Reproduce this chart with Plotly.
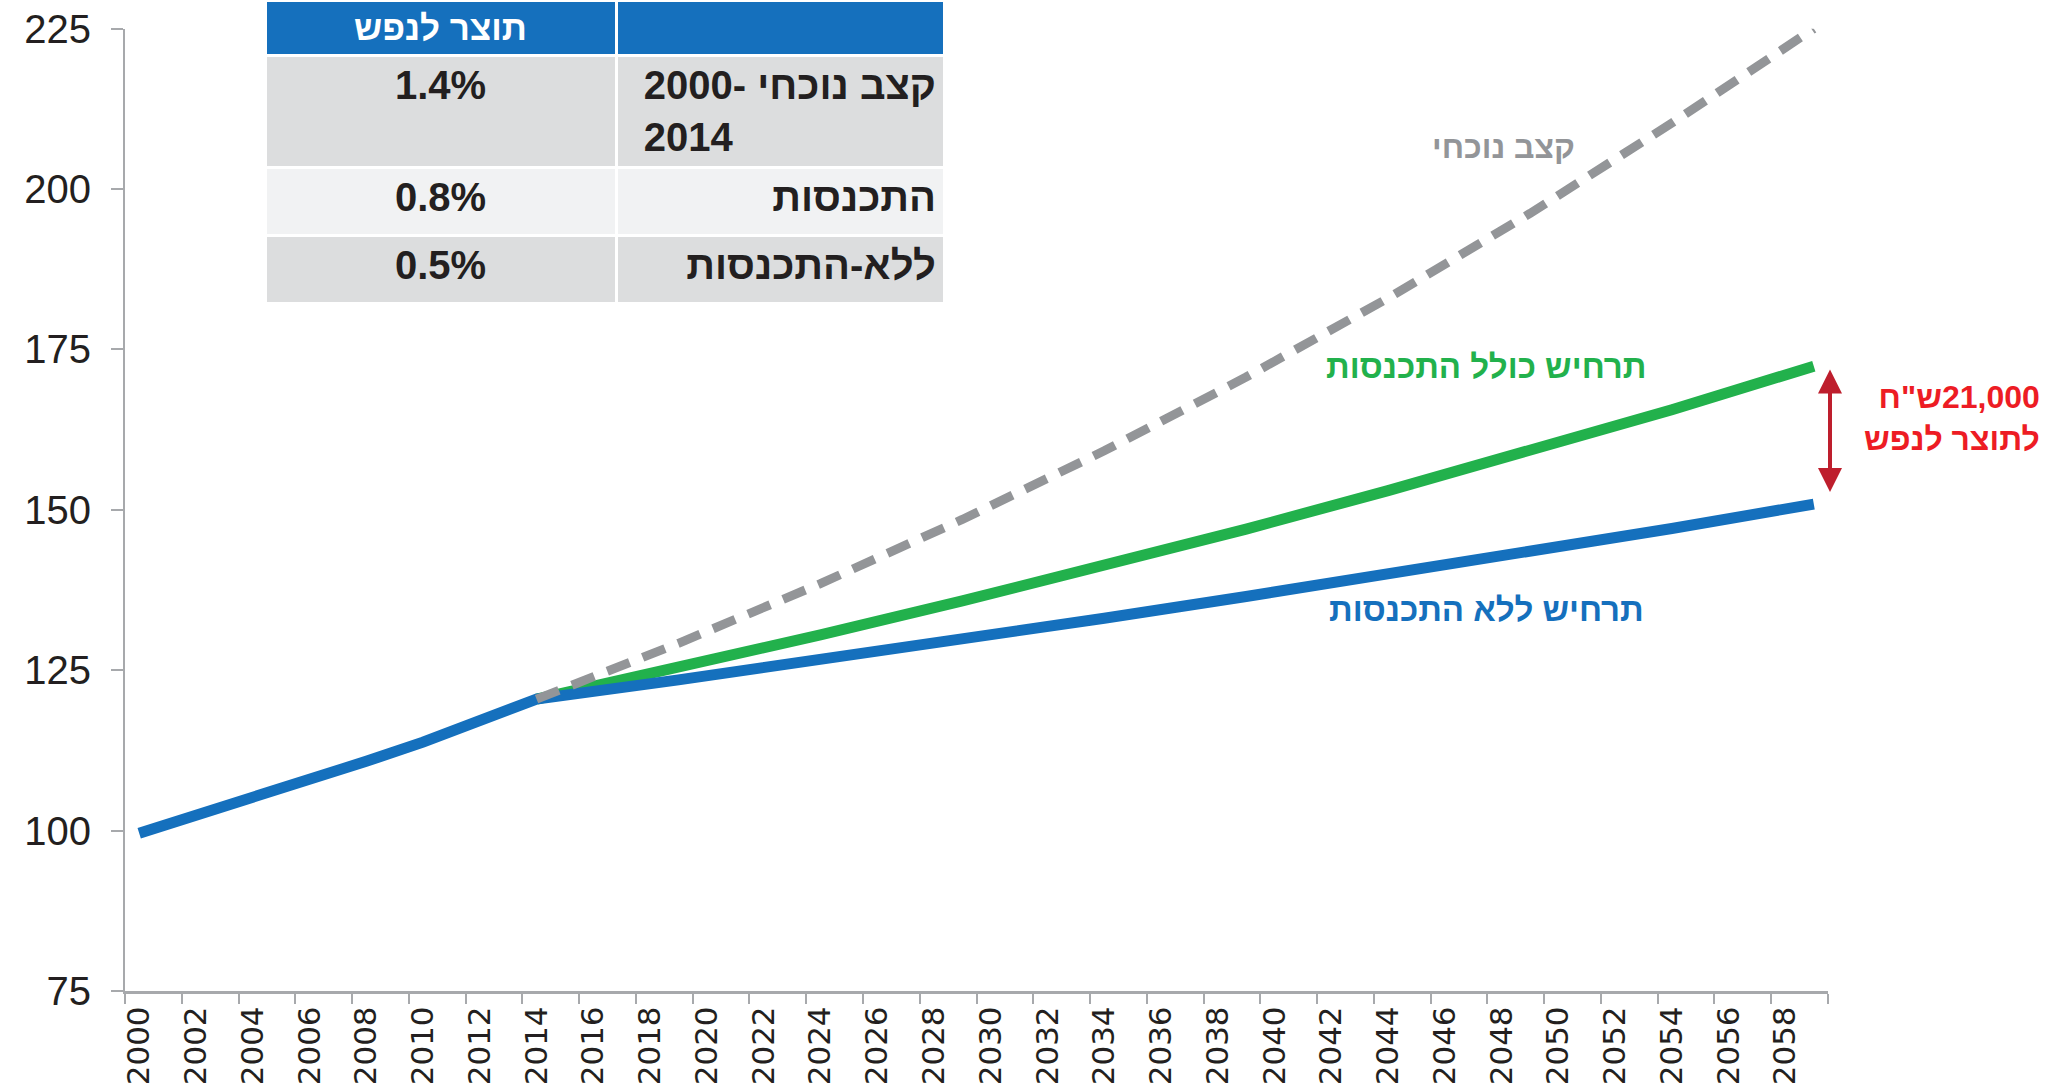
import plotly.graph_objects as go

# GDP per capita index, 2000 = 100
hist_years = [2000, 2002, 2004, 2006, 2008, 2010, 2012, 2014]
hist_values = [99.6, 102.3, 105.0, 107.8, 110.8, 113.8, 117.0, 120.5]

proj_years = [2014, 2019, 2024, 2029, 2034, 2039, 2044, 2049, 2054, 2059]
no_convergence = [120.5, 123.5, 126.6, 129.8, 133.1, 136.5, 139.9, 143.5, 147.1, 150.9]
with_convergence = [120.5, 125.4, 130.5, 135.8, 141.3, 147.0, 153.0, 159.2, 165.6, 172.4]
current_rate = [120.5, 129.2, 138.5, 148.5, 159.2, 170.7, 183.0, 196.2, 210.3, 225.0]

all_years = [str(y) for y in range(2000, 2060)]

# table in the upper left corner
table_header = ["תוצר לנפש", ""]
table_rates = ["1.4%", "0.8%", "0.5%"]
table_scenarios = ["קצב נוכחי -2000<br>2014", "התכנסות", "ללא-התכנסות"]
row_fills = ["#DCDDDE", "#F1F2F3", "#DCDDDE"]

BLUE = "#1570BD"
GREEN = "#22B14C"
GRAY = "#939598"
RED = "#ED1C24"
DARKRED = "#BE1E2D"
AXIS = "#A7A9AC"
TXT = "#231F20"
HEB = "Liberation Sans, Arial, DejaVu Sans"
NARROW = "Liberation Sans Narrow, Arial Narrow, Liberation Sans, Arial"

fig = go.Figure()

fig.add_trace(go.Scatter(
    x=[str(y) for y in proj_years], y=with_convergence, mode="lines",
    line=dict(color=GREEN, width=11), hoverinfo="skip", showlegend=False))

fig.add_trace(go.Scatter(
    x=[str(y) for y in hist_years + proj_years[1:]],
    y=hist_values + no_convergence[1:], mode="lines",
    line=dict(color=BLUE, width=11), hoverinfo="skip", showlegend=False))

fig.add_trace(go.Scatter(
    x=[str(y) for y in proj_years], y=current_rate, mode="lines",
    line=dict(color=GRAY, width=9, dash="24px,14px"), hoverinfo="skip", showlegend=False))

fig.add_trace(go.Table(
    domain=dict(x=[(265 - 125) / 1703, (944 - 125) / 1703], y=[(991 - 330) / 991, 1]),
    columnwidth=[351, 328],
    header=dict(
        values=["<b>%s</b>" % h for h in table_header],
        fill_color=BLUE, line=dict(color="white", width=3),
        font=dict(family=NARROW, size=35, color="white"),
        align=["center", "right"], height=44),
    cells=dict(
        values=[["<b>%s</b>" % v for v in table_rates],
                ["<b>%s</b>" % s for s in table_scenarios]],
        fill_color=[row_fills, row_fills], line=dict(color="white", width=3),
        font=dict(family=NARROW, size=40, color=TXT),
        align=["center", "right"], height=68),
))

# line labels
fig.add_annotation(x=48.05, y=206.6, xref="x", yref="y", text="<b>קצב נוכחי</b>",
                   showarrow=False, font=dict(family=HEB, size=32, color=GRAY))
fig.add_annotation(x=47.46, y=172.4, xref="x", yref="y", text="<b>תרחיש כולל התכנסות</b>",
                   showarrow=False, font=dict(family=HEB, size=33, color=GREEN))
fig.add_annotation(x=47.46, y=134.5, xref="x", yref="y", text="<b>תרחיש ללא התכנסות</b>",
                   showarrow=False, font=dict(family=HEB, size=33, color=BLUE))

# gap arrow and its note
fig.add_annotation(x=(1830 - 125) / 1703, y=152.8, xref="paper", yref="y",
                   ax=0, ay=-124, text="", showarrow=True,
                   arrowhead=2, arrowside="end+start", arrowwidth=4, arrowsize=1.2,
                   arrowcolor=DARKRED, standoff=0, startstandoff=0)
fig.add_annotation(x=(2042 - 125) / 1703, y=164.3, xref="paper", yref="y",
                   xanchor="right", align="right", showarrow=False,
                   text="<b>ש\"ח\u200e21,000<br>לתוצר לנפש</b>",
                   font=dict(family=HEB, size=32, color=RED))

fig.update_layout(
    width=2045, height=1092,
    margin=dict(l=125, r=217, t=0, b=101, autoexpand=False),
    plot_bgcolor="white", paper_bgcolor="white",
    showlegend=False,
    xaxis=dict(
        type="category", categoryorder="array", categoryarray=all_years,
        range=[-0.5, 59.5], tickmode="linear", tick0=0, dtick=2,
        tickson="boundaries", ticks="outside", ticklen=10, tickwidth=2, tickcolor=AXIS,
        showline=True, linecolor=AXIS, linewidth=3, showgrid=False, automargin=False,
        tickangle=-90, tickfont=dict(family="DejaVu Sans", size=31, color=TXT),
    ),
    yaxis=dict(
        domain=[0, (991 - 28.7) / 991],
        range=[75, 225], tick0=75, dtick=25, automargin=False,
        ticks="outside", ticklen=12, tickwidth=2, tickcolor=AXIS,
        showline=True, linecolor=AXIS, linewidth=2, showgrid=False, zeroline=False,
        ticklabelstandoff=12,
        tickfont=dict(family="Liberation Sans, Arial", size=40, color=TXT),
    ),
)

fig.write_html("out.html", config={"displayModeBar": False},
               post_script="document.body.style.margin='0';")
